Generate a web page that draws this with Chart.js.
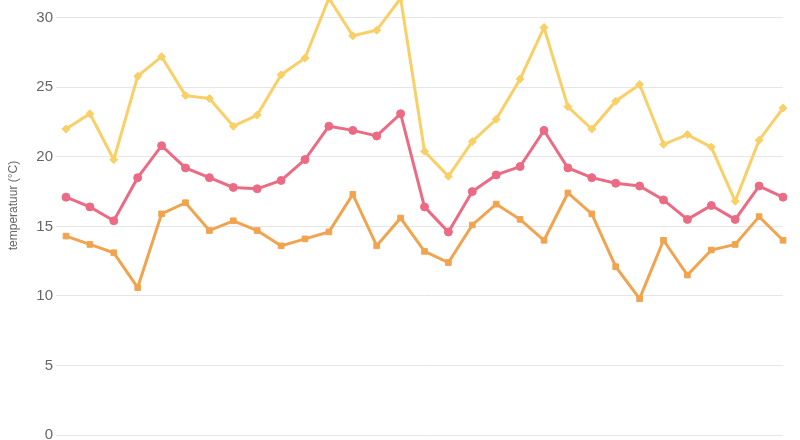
<!DOCTYPE html>
<html>
<head>
<meta charset="utf-8">
<script src="https://cdn.jsdelivr.net/npm/chart.js@4"></script>
<style>
  html, body { margin: 0; padding: 0; width: 800px; height: 440px; overflow: hidden; background: #fff; }
  #wrap { position: absolute; left: 0; top: -36px; width: 800px; height: 483px; }
</style>
</head>
<body>
<div id="wrap"><canvas id="c"></canvas></div>
<script>
const days = ["1","2","3","4","5","6","7","8","9","10","11","12","13","14","15","16","17","18","19","20","21","22","23","24","25","26","27","28","29","30","31"];
const maxTemp = [22.0, 23.1, 19.8, 25.8, 27.2, 24.4, 24.2, 22.2, 23.0, 25.9, 27.1, 31.4, 28.7, 29.1, 31.4, 20.4, 18.6, 21.1, 22.7, 25.6, 29.3, 23.6, 22.0, 24.0, 25.2, 20.9, 21.6, 20.7, 16.8, 21.2, 23.5];
const avgTemp = [17.1, 16.4, 15.4, 18.5, 20.8, 19.2, 18.5, 17.8, 17.7, 18.3, 19.8, 22.2, 21.9, 21.5, 23.1, 16.4, 14.6, 17.5, 18.7, 19.3, 21.9, 19.2, 18.5, 18.1, 17.9, 16.9, 15.5, 16.5, 15.5, 17.9, 17.1];
const minTemp = [14.3, 13.7, 13.1, 10.6, 15.9, 16.7, 14.7, 15.4, 14.7, 13.6, 14.1, 14.6, 17.3, 13.6, 15.6, 13.2, 12.4, 15.1, 16.6, 15.5, 14.0, 17.4, 15.9, 12.1, 9.8, 14.0, 11.5, 13.3, 13.7, 15.7, 14.0];
const yTicks = [0, 5, 10, 15, 20, 25, 30];
const seriesNames = ["maximum", "gemiddeld", "minimum"];
const yTitle = "temperatuur (°C)";

const yellow = "#f8d067", pink = "#ec6b84", orange = "#f1a450";
function ds(label, data, color, style) {
  return { label, data, borderColor: color, backgroundColor: color, borderWidth: 3,
    pointStyle: style, pointRadius: 4, pointBorderWidth: 1, pointHoverRadius: 5, tension: 0 };
}

new Chart(document.getElementById("c"), {
  type: "line",
  data: {
    labels: days,
    datasets: [
      ds(seriesNames[0], maxTemp, yellow, "rectRot"),
      ds(seriesNames[1], avgTemp, pink, "circle"),
      ds(seriesNames[2], minTemp, orange, "rect")
    ]
  },
  options: {
    responsive: true,
    maintainAspectRatio: false,
    animation: false,
    layout: { padding: { left: 2, right: 17 } },
    plugins: { legend: { display: false }, tooltip: { enabled: false } },
    scales: {
      x: { display: false },
      y: {
        min: 0, max: 33,
        afterFit: (s) => { s.width = 64; },
        afterBuildTicks: (s) => { s.ticks = yTicks.map(v => ({ value: v })); },
        border: { display: false },
        grid: { color: "#e6e6e6", tickLength: 10 },
        ticks: { color: "#666", font: { size: 15, family: "Helvetica, Arial, 'Liberation Sans', sans-serif" }, padding: 3 },
        title: { display: true, text: yTitle, color: "#666", font: { size: 12, family: "Helvetica, Arial, 'Liberation Sans', sans-serif" } }
      }
    }
  }
});
</script>
</body>
</html>
